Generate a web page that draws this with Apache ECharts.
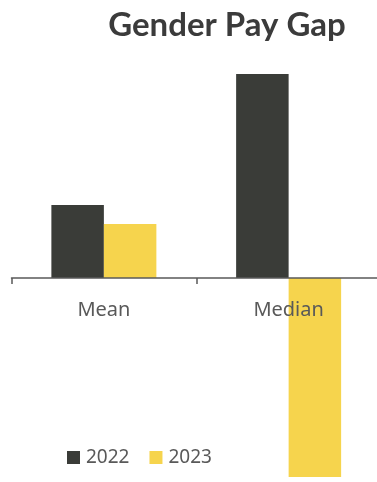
<!DOCTYPE html>
<html>
<head>
<meta charset="utf-8">
<script src="https://cdn.jsdelivr.net/npm/echarts@6/dist/echarts.min.js"></script>
<style>
  html, body { margin: 0; padding: 0; background: #fff; }
  #chart { width: 377px; height: 482px; }
</style>
</head>
<body>
<div id="chart"></div>
<script>
// data
const categories = ['Mean', 'Median'];
const years = ['2022', '2023'];
const values2022 = [7.3, 20.4];
const values2023 = [5.4, -19.9];

const colors = ['#3a3c38', '#f6d44d'];

const chart = echarts.init(document.getElementById('chart'));

const option = {
  animation: false,
  title: {
    text: 'Gender Pay Gap',
    left: 222,
    textAlign: 'center',
    top: 4,
    textStyle: {
      fontFamily: 'Lato',
      fontWeight: 'bold',
      fontSize: 33,
      color: '#3b3b3b'
    }
  },
  legend: {
    left: 62,
    top: 443,
    itemWidth: 13,
    itemHeight: 13,
    itemGap: 20,
    icon: 'rect',
    selectedMode: false,
    textStyle: {
      fontFamily: 'Noto Sans',
      fontSize: 19,
      color: '#595959',
      padding: [0, 0, 0, 1]
    },
    data: years
  },
  grid: {
    left: 11.5,
    right: -4,
    top: 74,
    bottom: 5,
    outerBoundsMode: 'none'
  },
  xAxis: {
    type: 'category',
    data: categories,
    z: 5,
    axisLine: {
      onZero: true,
      lineStyle: { color: '#595959', width: 1.5 }
    },
    axisTick: {
      show: true,
      length: 6,
      lineStyle: { color: '#595959', width: 1.5 }
    },
    axisLabel: {
      fontFamily: 'Noto Sans',
      fontSize: 20,
      color: '#595959',
      margin: -177
    }
  },
  yAxis: {
    type: 'value',
    min: -19.9,
    max: 20.4,
    show: false,
    splitLine: { show: false }
  },
  series: [
    {
      name: years[0],
      type: 'bar',
      data: values2022,
      color: colors[0],
      barWidth: 52.5,
      barGap: '0%',
      z: 2
    },
    {
      name: years[1],
      type: 'bar',
      data: values2023,
      color: colors[1],
      barWidth: 52.5,
      barGap: '0%',
      z: 2
    }
  ]
};

chart.setOption(option);
</script>
</body>
</html>
